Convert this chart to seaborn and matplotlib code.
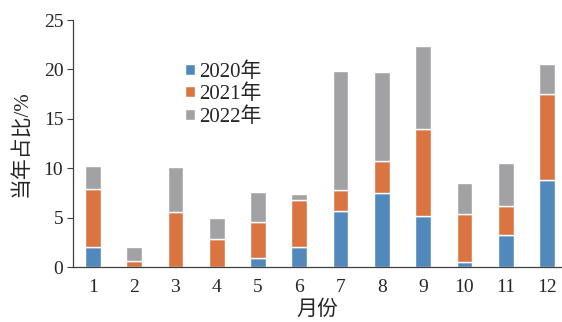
import numpy as np
import pandas as pd
import matplotlib
matplotlib.use("Agg")
import matplotlib.pyplot as plt
import seaborn as sns

# data (share of each year's total, %)
months = [str(m) for m in range(1, 13)]
share_2020 = [2.0, 0.0, 0.0, 0.0, 0.9, 2.0, 5.7, 7.5, 5.2, 0.55, 3.2, 8.8]
share_2021 = [5.9, 0.6, 5.6, 2.8, 3.7, 4.75, 2.05, 3.2, 8.75, 4.85, 3.0, 8.7]
share_2022 = [2.3, 1.4, 4.5, 2.2, 3.0, 0.6, 12.05, 9.0, 8.45, 3.1, 4.3, 3.0]
series_names = ["2020年", "2021年", "2022年"]
colors = ["#5289BD", "#DA7440", "#A2A2A5"]

sns.set_theme(style="white")
plt.rcParams["font.family"] = ["Liberation Serif", "Noto Sans CJK SC"]

fig = plt.figure(figsize=(5.62, 3.22), dpi=100)
ax = fig.add_axes([73 / 562, 55 / 322, 489 / 562, 247 / 322])

bottom = np.zeros(len(months))
for name, vals, c in zip(series_names, [share_2020, share_2021, share_2022], colors):
    df = pd.DataFrame({"month": months, "value": vals})
    sns.barplot(data=df, x="month", y="value", color=c, bottom=bottom,
                width=0.38, label=name, ax=ax, saturation=1)
    bottom = bottom + np.array(vals)

ax.set_xlim(-0.48, 11.36)
ax.set_ylim(0, 25)
ax.set_yticks([0, 5, 10, 15, 20, 25])
ax.tick_params(axis="y", direction="out", length=4, width=0.8, color="#404040",
               labelsize=14, pad=3, left=True)
ax.tick_params(axis="x", length=0, labelsize=14, pad=9)
for s in ["top", "right"]:
    ax.spines[s].set_visible(False)
for s in ["left", "bottom"]:
    ax.spines[s].set_color("#404040")
    ax.spines[s].set_linewidth(0.9)

ax.set_xlabel("月份", fontsize=15, labelpad=3)
ax.set_ylabel("当年占比/%", fontsize=15, labelpad=9)

ax.legend(loc="upper left", bbox_to_anchor=(0.213, 0.864), frameon=False,
          fontsize=15, handlelength=0.45, handleheight=0.45, handletextpad=0.2,
          labelspacing=0.15, borderaxespad=0)

fig.savefig("out.png", dpi=100)
